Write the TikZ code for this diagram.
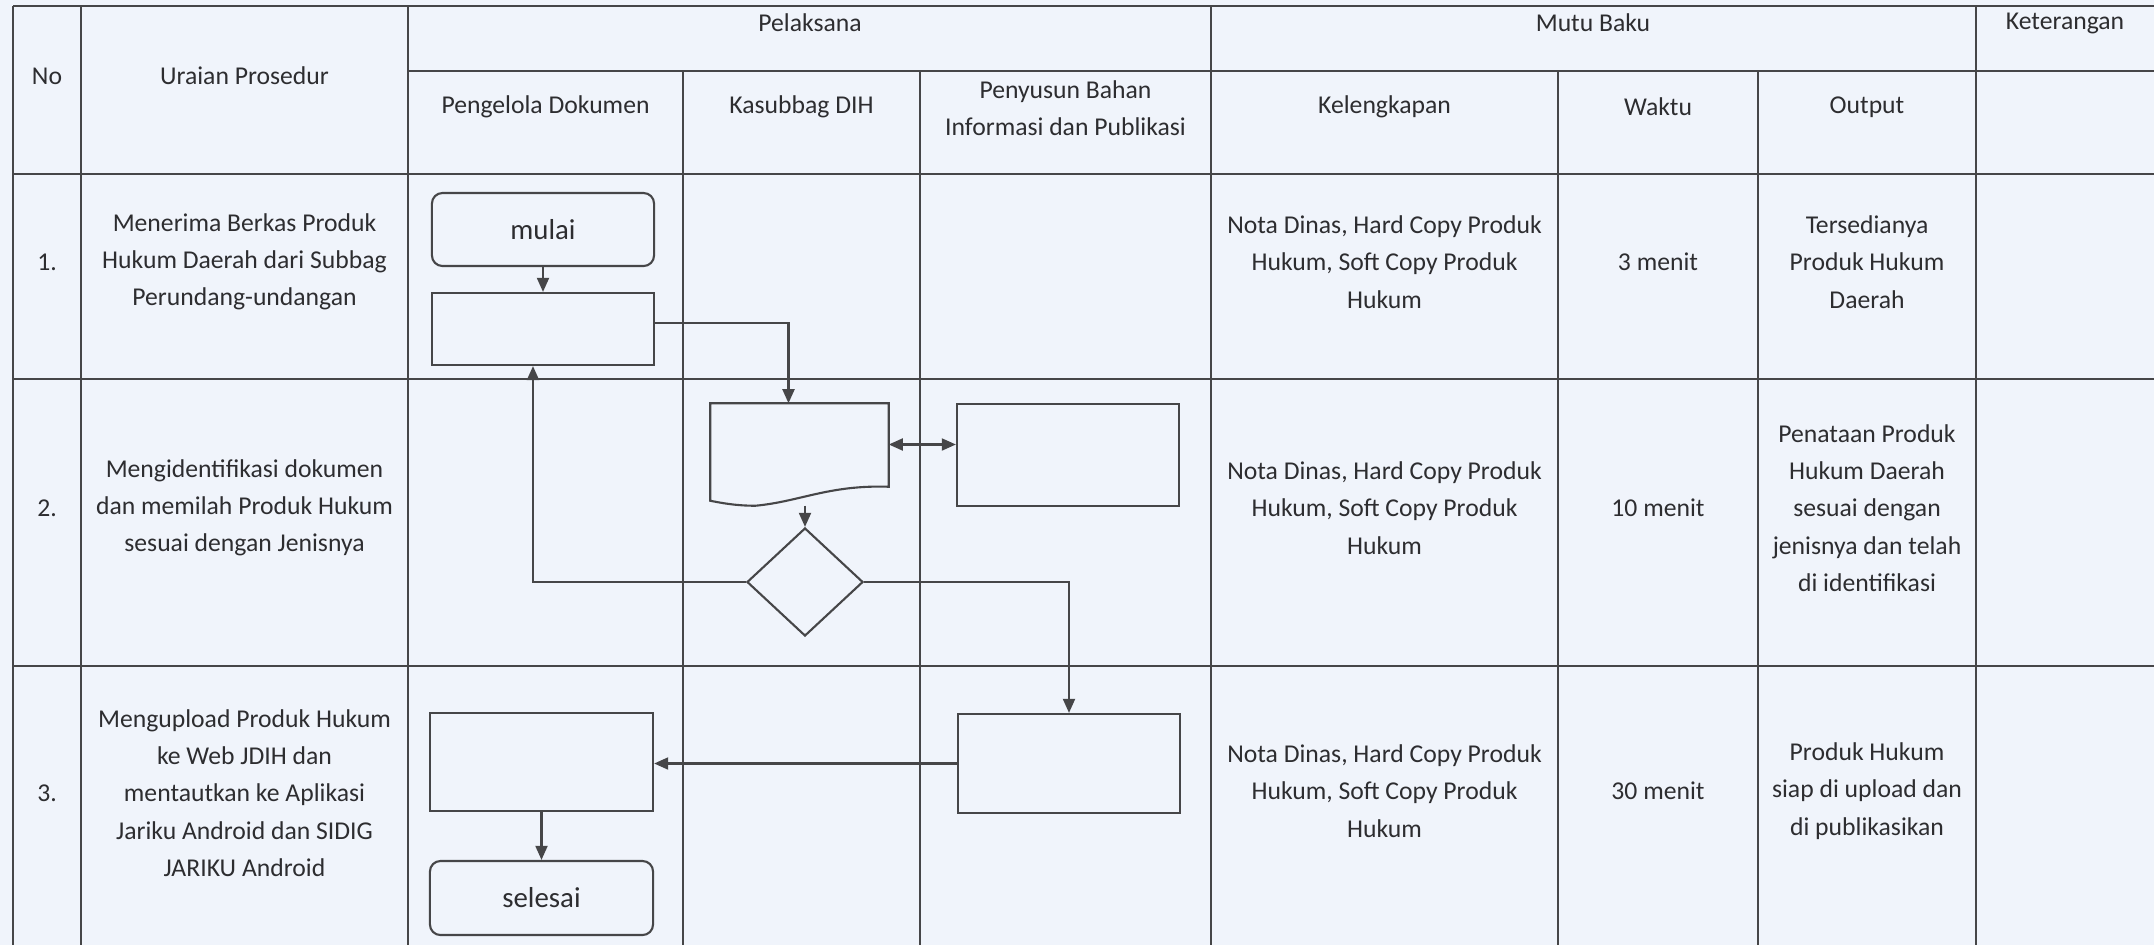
\documentclass[tikz,border=0pt]{standalone}
\usepackage{fontspec}
\setmainfont{Carlito}
\usetikzlibrary{shapes.geometric,arrows.meta,calc}
\definecolor{kertas}{RGB}{240,244,251}
\definecolor{garis}{RGB}{70,70,72}
\definecolor{tinta}{RGB}{45,45,48}
\begin{document}
\begin{tikzpicture}[x=.01cm, y=-.01cm, font=\fontsize{7.3}{10.6}\selectfont,
  every node/.style={text=tinta, inner sep=0pt, align=center},
  akhir/.style={draw=garis, line width=.6pt, rounded corners=3pt, minimum width=2.22cm, font=\fontsize{8.2}{10}\selectfont},
  proses/.style={draw=garis, line width=.6pt, minimum width=2.22cm},
  keputusan/.style={draw=garis, line width=.6pt, diamond, minimum width=1.16cm, minimum height=1.08cm},
  panah/.style={draw=garis, line width=.6pt, -{Triangle[length=4pt,width=3.4pt]}},
  garisdua/.style={draw=garis, line width=.6pt, {Triangle[length=4pt,width=3.4pt]}-{Triangle[length=4pt,width=3.4pt]}},
  tabel/.style={draw=garis, line width=.6pt}]
\fill[kertas] (0,0) rectangle (2154,945);
\useasboundingbox (0,0) rectangle (2154,945);

\draw[tabel] (13,6) -- (2154,6);
\draw[tabel] (408,71) -- (2154,71);
\draw[tabel] (13,174) -- (2154,174);
\draw[tabel] (13,379) -- (2154,379);
\draw[tabel] (13,666) -- (2154,666);
\draw[tabel] (13,6) -- (13,945);
\draw[tabel] (81,6) -- (81,945);
\draw[tabel] (408,6) -- (408,945);
\draw[tabel] (1211,6) -- (1211,945);
\draw[tabel] (1976,6) -- (1976,945);
\draw[tabel] (683,71) -- (683,945);
\draw[tabel] (920,71) -- (920,945);
\draw[tabel] (1558,71) -- (1558,945);
\draw[tabel] (1758,71) -- (1758,945);

\node (hNo) at (47,76) {No};
\node (hUraian) at (244.5,76) {Uraian Prosedur};
\node (hPelaksana) at (810,23) {Pelaksana};
\node (hMutu) at (1593,23) {Mutu Baku};
\node (hKet) at (2065,23) {Keterangan};
\node (hPengelola) at (545.5,107) {Pengelola Dokumen};
\node (hKasubbag) at (801.5,107) {Kasubbag DIH};
\node (hPenyusun) at (1065.5,108) {Penyusun Bahan\\Informasi dan Publikasi};
\node (hLengkap) at (1384.5,107) {Kelengkapan};
\node (hWaktu) at (1658,107) {Waktu};
\node (hOutput) at (1867,107) {Output};

\node (no1) at (47,262) {1.};
\node (no2) at (47,508) {2.};
\node (no3) at (47,793) {3.};
\node (uraian1) at (244.5,262) {Menerima Berkas Produk\\Hukum Daerah dari Subbag\\Perundang-undangan};
\node (uraian2) at (244.5,508) {Mengidentifikasi dokumen\\dan memilah Produk Hukum\\sesuai dengan Jenisnya};
\node (uraian3) at (244.5,793) {Mengupload Produk Hukum\\ke Web JDIH dan\\mentautkan ke Aplikasi\\Jariku Android dan SIDIG\\JARIKU Android};
\node (lengkap1) at (1384.5,262) {Nota Dinas, Hard Copy Produk\\Hukum, Soft Copy Produk\\Hukum};
\node (lengkap2) at (1384.5,508) {Nota Dinas, Hard Copy Produk\\Hukum, Soft Copy Produk\\Hukum};
\node (lengkap3) at (1384.5,791) {Nota Dinas, Hard Copy Produk\\Hukum, Soft Copy Produk\\Hukum};
\node (waktu1) at (1658,262) {3 menit};
\node (waktu2) at (1658,508) {10 menit};
\node (waktu3) at (1658,791) {30 menit};
\node (output1) at (1867,262) {Tersedianya\\Produk Hukum\\Daerah};
\node (output2) at (1867,508) {Penataan Produk\\Hukum Daerah\\sesuai dengan\\jenisnya dan telah\\di identifikasi};
\node (output3) at (1867,791) {Produk Hukum\\siap di upload dan\\di publikasikan};

\node[akhir, minimum height=.73cm] (mulai) at (543,229.5) {mulai};
\node[proses, minimum height=.72cm] (terima) at (543,329) {};
\node[minimum width=1.77cm, minimum height=1.01cm] (periksa) at (799.5,454.5) {};
\draw[garis, line width=.6pt] (periksa.north west) -- (periksa.north east) -- ($(periksa.south east)+(0,-19)$)
  .. controls ($(periksa.south east)+(-60,-21)$) and ($(periksa.south)+(0,-4)$) .. ($(periksa.south west)+(45,0)$)
  .. controls ($(periksa.south west)+(25,0)$) and ($(periksa.south west)+(10,-3)$) .. ($(periksa.south west)+(0,-5)$) -- cycle;
\node[proses, minimum height=1.02cm] (susun) at (1068,455) {};
\node[keputusan] (pilah) at (805,582) {};
\node[proses, minimum height=.99cm] (unggah) at (1069,763.5) {};
\node[proses, minimum width=2.23cm, minimum height=.98cm] (tautkan) at (541.5,762) {};
\node[akhir, minimum width=2.23cm, minimum height=.74cm] (selesai) at (541.5,898) {selesai};

\draw[panah] (mulai) -- (terima);
\draw[panah] ([yshift=.06cm]terima.east) -| ([xshift=-.11cm]periksa.north);
\draw[garisdua] ([yshift=.1cm]periksa.east) -- ([yshift=.1cm]periksa.east -| susun.west);
\draw[panah] (pilah.north |- periksa.south) -- (pilah.north);
\draw[panah] (pilah.west) -| ([xshift=-.1cm]terima.south);
\draw[panah] (pilah.east) -| (unggah.north);
\draw[panah] (unggah.west) -- (unggah.west -| tautkan.east);
\draw[panah] (tautkan) -- (selesai);
\end{tikzpicture}
\end{document}
